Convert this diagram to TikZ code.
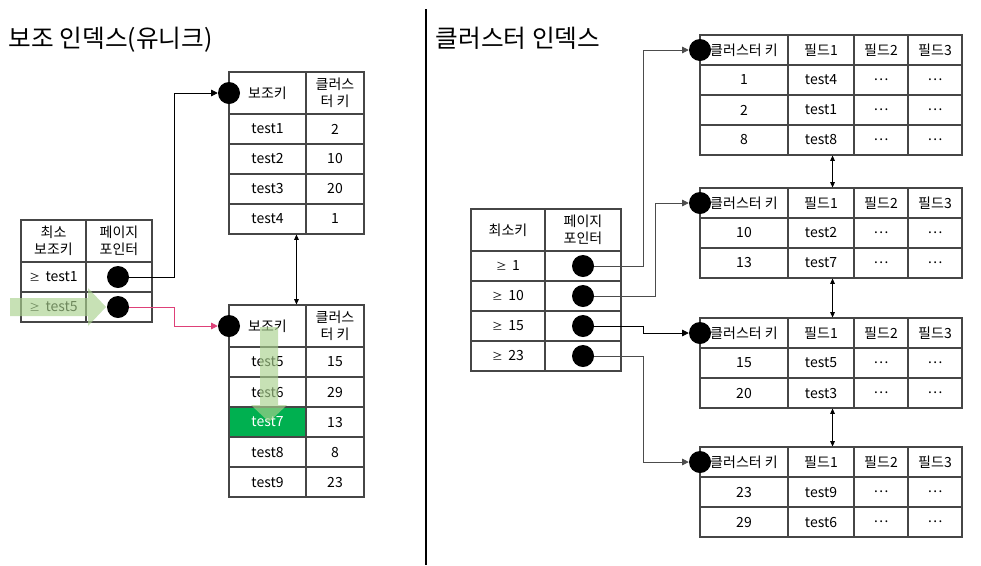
\documentclass[tikz,border=0pt]{standalone}
\usepackage{fontspec}
\setmainfont{Noto Sans CJK KR}
\usepackage{xcolor}
\usepackage{tikz}
\usetikzlibrary{arrows.meta, positioning}

\definecolor{tablegray}{RGB}{70,70,70}
\definecolor{hitgreen}{RGB}{0,176,80}
\definecolor{pathgreen}{RGB}{169,209,142}
\definecolor{seekpink}{RGB}{222,64,120}

\begin{document}
\begin{tikzpicture}[x=0.75pt, y=-0.75pt,
  every node/.style={font=\fontsize{10.5}{12.5}\selectfont, align=center},
  cell/.style={draw=tablegray, line width=0.8pt, inner sep=0pt, minimum height=22.5pt},
  head/.style={cell, minimum height=31.5pt},
  plain/.style={},
  hit/.style={fill=hitgreen, text=white},
  dot/.style={circle, fill=black, inner sep=0pt, minimum size=16.5pt},
  link/.style={-{Triangle[length=5pt,width=5pt]}, line width=0.6pt},
  twoway/.style={{Triangle[length=4pt,width=3.5pt]}-{Triangle[length=4pt,width=3.5pt]}, line width=0.5pt},
  flow/.style={fill=pathgreen, fill opacity=0.65, draw=none}]
  \useasboundingbox (0,0) rectangle (981,565);

  % titles and divider
  \node[anchor=west, font=\fontsize{18.5}{22}\selectfont] (title-sec) at (4,40) {보조 인덱스(유니크)};
  \node[anchor=west, font=\fontsize{18.5}{22}\selectfont] (title-clu) at (431,38) {클러스터 인덱스};
  \draw[line width=1.5pt] (426,9) -- (426,565);

  % secondary index: root page
  \node[head, minimum width=48.75pt] (lt-0-1) at (53.5,241) {최소\\보조키};
  \node[head, minimum width=49.5pt] (lt-0-2) at (119,241) {페이지\\포인터};
  \foreach \val [count=\r] in {test1, test5} {
    \node[cell, minimum width=48.75pt] (lt-\r-1) at (53.5, 247+30*\r) {{\fontsize{8}{10}\selectfont ≥}\, \val};
    \node[cell, minimum width=49.5pt] (lt-\r-2) at (119, 247+30*\r) {};
    \node[dot] (lt-\r-dot) at (118, 247+30*\r) {};
  }

  % secondary index: leaf pages
  \node[head, minimum width=57.75pt] (ut-0-1) at (267.5,93) {보조키};
  \node[head, minimum width=43.5pt] (ut-0-2) at (335,93) {클러스\\터 키};
  \foreach \k/\v [count=\r] in {test1/2, test2/10, test3/20, test4/1} {
    \node[cell, minimum width=57.75pt] (ut-\r-1) at (267.5, 99+30*\r) {\k};
    \node[cell, minimum width=43.5pt] (ut-\r-2) at (335, 99+30*\r) {\v};
  }
  \node[dot] (ut-dot) at (229,93) {};

  \node[head, minimum width=57.75pt] (bt-0-1) at (267.5,326) {보조키};
  \node[head, minimum width=43.5pt] (bt-0-2) at (335,326) {클러스\\터 키};
  \foreach \k/\v/\st [count=\r] in {test5/15/plain, test6/29/plain, test7/13/hit, test8/8/plain, test9/23/plain} {
    \node[cell, \st, minimum width=57.75pt] (bt-\r-1) at (267.5, 332+30*\r) {\k};
    \node[cell, minimum width=43.5pt] (bt-\r-2) at (335, 332+30*\r) {\v};
  }
  \node[dot] (bt-dot) at (229,326) {};

  \draw[link] (lt-1-dot) -- ++(56,0) |- (ut-dot);
  \draw[link, seekpink] (lt-2-dot) -- ++(56,0) |- (bt-dot);
  \draw[twoway] ([xshift=-6.75pt]ut-4-2.south west) -- ([xshift=-6.75pt]bt-0-2.north west);

  % search path
  \fill[flow] (10,298) -- (88,298) -- (88,288) -- (106,307) -- (88,326) -- (88,316) -- (10,316) -- cycle;
  \fill[flow] (260,327) -- (278,327) -- (278,405) -- (287,405) -- (269,422) -- (251,405) -- (260,405) -- cycle;

  % clustered index: root page
  \node[head, minimum width=55.5pt] (ct-0-1) at (508,230) {최소키};
  \node[head, minimum width=57pt] (ct-0-2) at (583,230) {페이지\\포인터};
  \foreach \val [count=\r] in {1, 10, 15, 23} {
    \node[cell, minimum width=55.5pt] (ct-\r-1) at (508, 236+30*\r) {{\fontsize{8}{10}\selectfont ≥}\, \val};
    \node[cell, minimum width=57pt] (ct-\r-2) at (583, 236+30*\r) {};
    \node[dot] (ct-\r-dot) at (583, 236+30*\r) {};
  }

  % clustered index: data pages
  \foreach \n/\top in {1/35, 2/188, 3/318, 4/447} {
    \node[cell, minimum width=66pt] (c\n-0-1) at (744, \top+15) {클러스터 키};
    \node[cell, minimum width=49.5pt] (c\n-0-2) at (821, \top+15) {필드1};
    \node[cell, minimum width=40.5pt] (c\n-0-3) at (881, \top+15) {필드2};
    \node[cell, minimum width=40.5pt] (c\n-0-4) at (935, \top+15) {필드3};
  }
  \foreach \n/\y/\key/\fld in {1/80/1/test4, 1/110/2/test1, 1/140/8/test8,
                               2/233/10/test2, 2/263/13/test7,
                               3/363/15/test5, 3/393/20/test3,
                               4/492/23/test9, 4/522/29/test6} {
    \node[cell, minimum width=66pt] (c\n-\key-1) at (744, \y) {\key};
    \node[cell, minimum width=49.5pt] (c\n-\key-2) at (821, \y) {\fld};
    \node[cell, minimum width=40.5pt] (c\n-\key-3) at (881, \y) {⋯};
    \node[cell, minimum width=40.5pt] (c\n-\key-4) at (935, \y) {⋯};
  }
  \foreach \n/\top in {1/35, 2/188, 3/318, 4/447}
    \node[dot] (c\n-dot) at (700, \top+15) {};

  \draw[link, black!70] (ct-1-dot) -- ++(60,0) |- (c1-dot);
  \draw[link, black!70] (ct-2-dot) -- ++(72,0) |- (c2-dot);
  \draw[link] (ct-3-dot) -- ++(60,0) |- (c3-dot);
  \draw[link, black!70] (ct-4-dot) -- ++(60,0) |- (c4-dot);
  \draw[twoway] ([xshift=-16.5pt]c1-8-2.south east) -- ([xshift=-16.5pt]c2-0-2.north east);
  \draw[twoway] ([xshift=-16.5pt]c2-13-2.south east) -- ([xshift=-16.5pt]c3-0-2.north east);
  \draw[twoway] ([xshift=-16.5pt]c3-20-2.south east) -- ([xshift=-16.5pt]c4-0-2.north east);
\end{tikzpicture}
\end{document}
